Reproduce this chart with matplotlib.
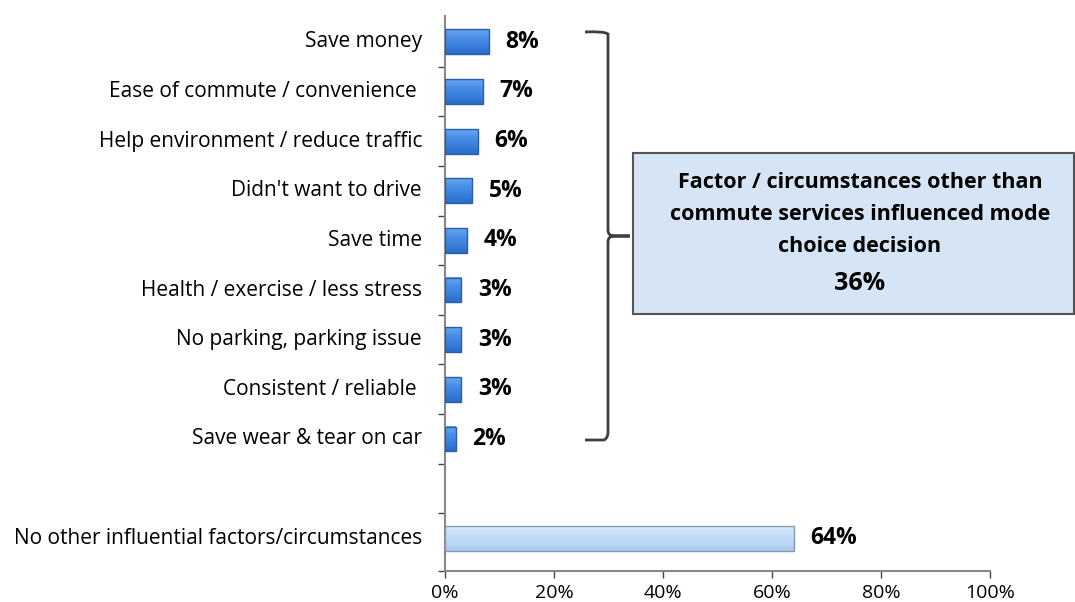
import numpy as np
import matplotlib.pyplot as plt
from matplotlib.patches import Rectangle, PathPatch
from matplotlib.path import Path
from matplotlib.colors import LinearSegmentedColormap

categories = [
    "Save money",
    "Ease of commute / convenience ",
    "Help environment / reduce traffic",
    "Didn't want to drive",
    "Save time",
    "Health / exercise / less stress",
    "No parking, parking issue",
    "Consistent / reliable ",
    "Save wear & tear on car",
    "",
    "No other influential factors/circumstances",
]
values = [8, 7, 6, 5, 4, 3, 3, 3, 2, None, 64]
value_labels = ["8%", "7%", "6%", "5%", "4%", "3%", "3%", "3%", "2%", "", "64%"]
xticks = [0, 20, 40, 60, 80, 100]
xtick_labels = ["0%", "20%", "40%", "60%", "80%", "100%"]
summary_lines = ["Factor / circumstances other than",
                 "commute services influenced mode",
                 "choice decision"]
summary_value = "36%"

plt.rcParams['font.family'] = ['Open Sans', 'DejaVu Sans']

W, H = 1075, 602
fig = plt.figure(figsize=(W / 100, H / 100), dpi=100)
ax = fig.add_axes([445 / W, 1 - 571 / H, (990 - 445) / W, (571 - 16) / H])

blue_cmap = LinearSegmentedColormap.from_list(
    "bluebar", ["#6AA6F0", "#4A8FE8", "#3A80DC", "#2A6CC6"])
pale_cmap = LinearSegmentedColormap.from_list(
    "palebar", ["#D8E9FB", "#C6DEF8", "#B9D6F5", "#ABCBEE"])
grad = np.linspace(0, 1, 64).reshape(-1, 1)

n = len(categories)
ys = list(range(n))
bh = 0.5
for y, v in zip(ys, values):
    if v is None:
        continue
    last = (y == n - 1)
    cmap = pale_cmap if last else blue_cmap
    edge = "#8C98A4" if last else "#2A5EA6"
    ax.imshow(grad, cmap=cmap, aspect="auto", extent=[0, v, y + bh / 2, y - bh / 2],
              zorder=3, interpolation="bilinear")
    ax.add_patch(Rectangle((0, y - bh / 2), v, bh, fill=False, edgecolor=edge,
                           linewidth=1.0, zorder=4))

for y, v, lab in zip(ys, values, value_labels):
    if v is None:
        continue
    ax.text(v + 3.0, y, lab, va="center", ha="left", fontsize=16.5, fontweight="bold",
            color="black")

ax.set_ylim(10.66, -0.52)
ax.set_xlim(0, 100)
ax.set_yticks([i + 0.5 for i in range(n - 1)] + [10.66])
ax.set_yticklabels([])
ax.tick_params(axis="y", length=5, color="#444444", width=1)
for y, lab in zip(ys, categories):
    ax.text(-4.2, y, lab, ha="right", va="center", fontsize=15, color="black")

ax.set_xticks(xticks)
ax.set_xticklabels(xtick_labels, fontsize=14)
ax.tick_params(axis="x", length=5, color="#444444", width=1, pad=4)
for s in ["top", "right"]:
    ax.spines[s].set_visible(False)
for s in ["left", "bottom"]:
    ax.spines[s].set_color("#888888")
    ax.spines[s].set_linewidth(1.5)


def fpx(x, y):
    return (x / W, 1 - y / H)


# right-hand brace spanning the nine factor bars
verts = [fpx(585, 32), fpx(604, 31), fpx(608, 34), fpx(608, 40),
         fpx(608, 230), fpx(608, 236), fpx(614, 236), fpx(630, 236),
         fpx(614, 236), fpx(608, 236), fpx(608, 242),
         fpx(608, 432), fpx(608, 438), fpx(604, 440), fpx(585, 440)]
codes = [Path.MOVETO, Path.CURVE3, Path.CURVE3, Path.LINETO,
         Path.LINETO, Path.CURVE3, Path.CURVE3, Path.LINETO,
         Path.LINETO, Path.CURVE3, Path.CURVE3,
         Path.LINETO, Path.CURVE3, Path.CURVE3, Path.LINETO]
fig.patches.append(PathPatch(Path(verts, codes), transform=fig.transFigure, fill=False,
                             edgecolor="#3F3F3F", linewidth=2.0))

fig.patches.append(Rectangle((633 / W, 1 - 314 / H), (1074 - 633) / W, (314 - 153) / H,
                             transform=fig.transFigure, facecolor="#D6E5F6",
                             edgecolor="#555555", linewidth=1.5))
for i, line in enumerate(summary_lines):
    fig.text(860 / W, 1 - (182 + 32.5 * i) / H, line, ha="center", va="center",
             fontsize=15.5, fontweight="bold")
fig.text(860 / W, 1 - 283 / H, summary_value, ha="center", va="center", fontsize=18,
         fontweight="bold")

fig.savefig("out.png", dpi=100)
